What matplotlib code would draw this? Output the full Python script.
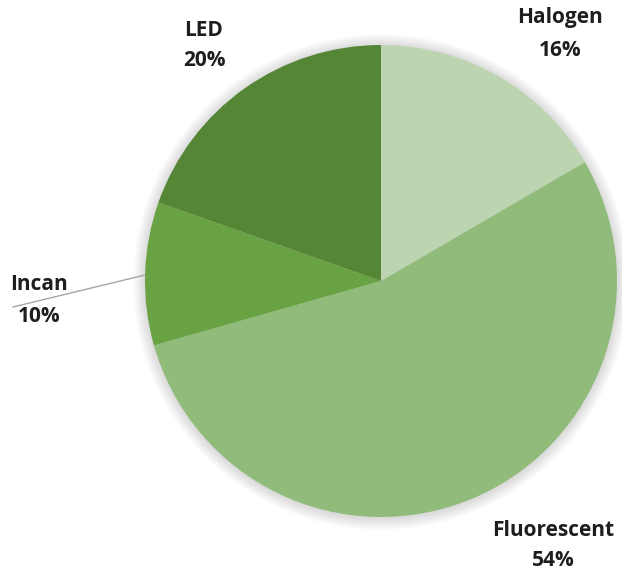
import matplotlib
matplotlib.use("Agg")
from matplotlib import pyplot as plt
from matplotlib.patches import Circle

# lighting share data
labels = ["Halogen", "Fluorescent", "Incan", "LED"]
shares = [16.6, 54.0, 9.8, 19.6]
pct_labels = ["16%", "54%", "10%", "20%"]
colors = ["#bcd5b0", "#91bb7b", "#68a243", "#548636"]

W, H = 622, 573
fig = plt.figure(figsize=(W / 100, H / 100), dpi=100)
ax = fig.add_axes([0, 0, 1, 1])

cx, cy, r = 381, H - 281, 236

# soft shadow round the pie
for i in range(12):
    ax.add_patch(Circle((cx, cy - 1), r + 1 + i, color="#000000",
                        alpha=0.012, lw=0, zorder=0))

ax.pie(shares, colors=colors, startangle=90, counterclock=False,
       center=(cx, cy), radius=r, frame=True,
       wedgeprops=dict(linewidth=0, zorder=1))
ax.set_xlim(0, W)
ax.set_ylim(0, H)
ax.set_aspect("equal")
ax.axis("off")

# label positions (pixel centres, name line then percent line)
label_pos = {
    "Halogen": (560, 18, 50),
    "Fluorescent": (553, 530, 561),
    "Incan": (39, 285, 316),
    "LED": (204, 31, 61),
}
font = dict(family="Open Sans", fontweight="bold", fontsize=15,
            color="#1e1e1e", ha="center", va="center")
for name, pct in zip(labels, pct_labels):
    x, y1, y2 = label_pos[name]
    ax.text(x, H - y1, name, **font)
    ax.text(x, H - y2, pct, **font)

# leader line for Incan
ax.plot([145, 13], [H - 275, H - 307], color="#a6a6a6", lw=1, zorder=3)

fig.savefig("out.png", dpi=100)
